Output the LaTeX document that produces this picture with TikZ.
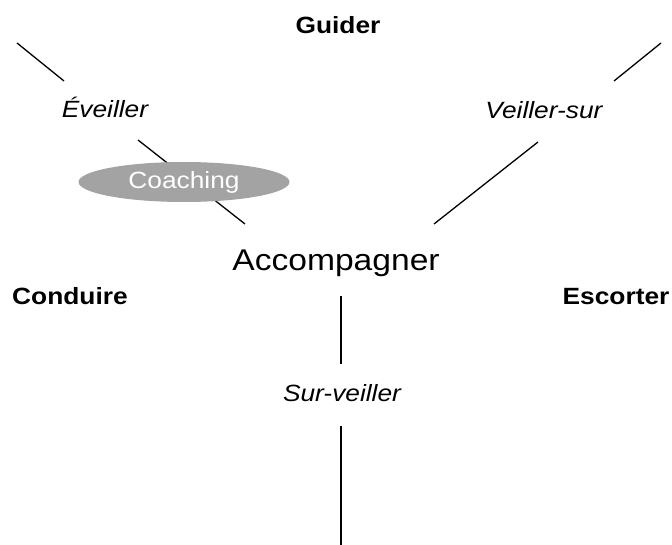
\documentclass[tikz,border=0pt]{standalone}
\usepackage{fontspec}
\setmainfont[FakeStretch=1.12]{Liberation Sans}
\usetikzlibrary{shapes.geometric}
\definecolor{coachgray}{RGB}{163,163,163}
\begin{document}
\begin{tikzpicture}[x=1pt,y=-1pt]
		\def\lab{\fontsize{23.5}{28}\selectfont}
		\useasboundingbox (0,0) rectangle (672,545);
		\node[anchor=base] (guider) at (338,34) {\lab\bfseries Guider};
		\node[anchor=base] (conduire) at (70,305) {\lab\bfseries Conduire};
		\node[anchor=base] (escorter) at (616,305) {\lab\bfseries Escorter};
		\node[anchor=base] (accomp) at (336,271) {\fontsize{30}{36}\selectfont Accompagner};
		\node[anchor=base] (eveiller) at (105,118) {\lab\itshape Éveiller};
		\node[anchor=base] (veiller) at (544,119) {\lab\itshape Veiller-sur};
		\node[anchor=base] (surveiller) at (342,401) {\lab\itshape Sur-veiller};
		\coordinate (tl1) at (17,43);
		\coordinate (tl2) at (64,81);
		\coordinate (el1) at (138,140);
		\coordinate (el2) at (245,224);
		\coordinate (tr1) at (661,43);
		\coordinate (tr2) at (614,81);
		\coordinate (vr1) at (538,142);
		\coordinate (vr2) at (434,224);
		\coordinate (v1) at (341,296);
		\coordinate (v2) at (341,364);
		\coordinate (v3) at (341,426);
		\coordinate (v4) at (341,545);
		\draw[line width=1.3pt] (tl1) -- (tl2);
		\draw[line width=1.3pt] (el1) -- (el2);
		\draw[line width=1.3pt] (tr1) -- (tr2);
		\draw[line width=1.3pt] (vr1) -- (vr2);
		\draw[line width=1.3pt] (v1) -- (v2);
		\draw[line width=1.3pt] (v3) -- (v4);
		\node[ellipse, fill=coachgray, minimum width=211pt, minimum height=40pt, inner sep=0pt, text=white] (coaching) at (184,182) {\lab Coaching};
	\end{tikzpicture}
\end{document}
